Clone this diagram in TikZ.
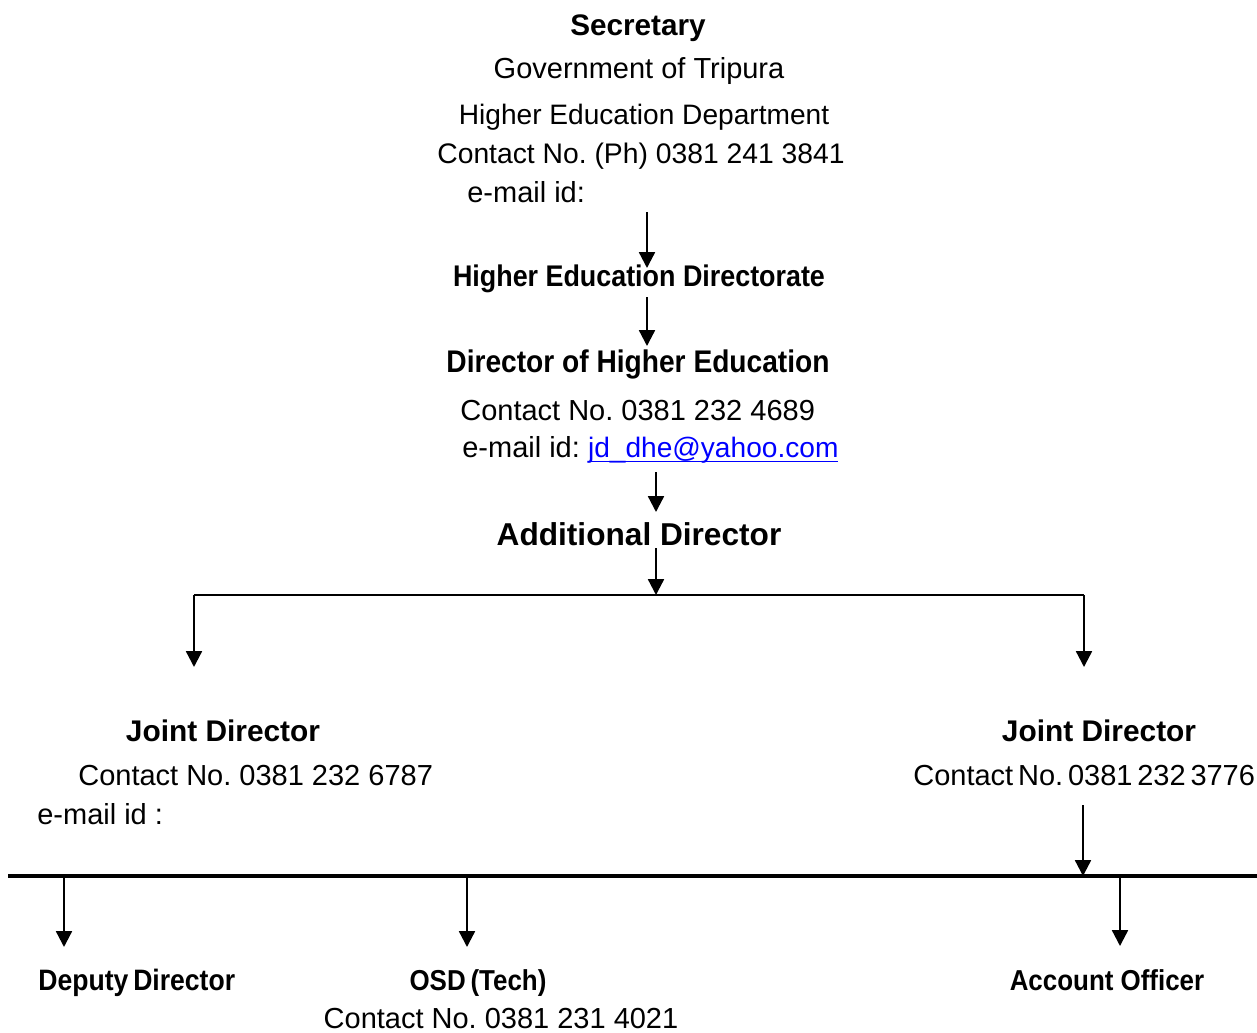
\documentclass[tikz,border=0pt]{standalone}
\usepackage{fontspec}
\setmainfont{Liberation Sans}
\newfontfamily\narrowsf[FakeStretch=0.9]{Liberation Sans}
\usetikzlibrary{arrows.meta,positioning}

\definecolor{linkblue}{RGB}{0,0,255}
\newcommand\fsz[1]{\fontsize{#1}{#1}\selectfont}
\newcommand\linkul[1]{\setbox0\hbox{#1}\rlap{\rule[-2.6pt]{\wd0}{0.6pt}}\box0}
\frenchspacing

\tikzset{
  lbl/.style={anchor=base,inner sep=0pt},
  arr/.style={-{Triangle[width=9pt,length=9pt]},line width=1.3pt},
  bus/.style={line width=1.2pt},
  mainbus/.style={line width=2pt}
}

\begin{document}
\begin{tikzpicture}[x=0.02cm,y=-0.02cm,font=\fsz{16.5}]
  \useasboundingbox (0,0) rectangle (1257,1032);

  % Secretary
  \node[lbl] (sec) at (638,35) {\fsz{16.9}\bfseries Secretary};
  \node[lbl] (gov) at (639,78) {Government of Tripura};
  \node[lbl] (hedept) at (644,124) {\fsz{16}Higher Education Department};
  \node[lbl] (secph) at (641,163) {\fsz{16.1}Contact No. (Ph) 0381 241 3841};
  \node[lbl,anchor=base west] (secmail) at (467,202) {e-mail id:};

  % Directorate and Director
  \node[lbl] (hedir) at (639,286) {\narrowsf\bfseries\fsz{17}Higher Education Directorate};
  \node[lbl] (dhe) at (638,372) {\narrowsf\bfseries\fsz{17.8}Director of Higher Education};
  \node[lbl,anchor=base west] (dheph) at (460,420) {Contact No. 0381 232 4689};
  \node[lbl,anchor=base west] (dhemail) at (462,457) {e-mail id: \textcolor{linkblue}{\fsz{16}\linkul{jd\_dhe@yahoo.com}}};

  % Additional Director
  \node[lbl] (addl) at (639,545) {\fsz{18}\bfseries Additional Director};

  % Joint Directors
  \node[lbl] (jdl) at (223,741) {\fsz{17}\bfseries Joint Director};
  \node[lbl,anchor=base west] (jdlph) at (78,785) {Contact No. 0381 232 6787};
  \node[lbl,anchor=base west] (jdlmail) at (37,824) {e-mail id :};
  \node[lbl] (jdr) at (1099,741) {\fsz{17}\bfseries Joint Director};
  \node[lbl,anchor=base west] (jdrph) at (913,785) {Contact\,No.\,0381\,232\,3776};

  % Officers
  \node[lbl,anchor=base west] (dd) at (38,990) {\narrowsf\bfseries\fsz{16.8}Deputy\,Director};
  \node[lbl] (osd) at (478,990) {\narrowsf\bfseries\fsz{16.4}OSD\,(Tech)};
  \node[lbl] (ao) at (1107,990) {\narrowsf\bfseries\fsz{16.4}Account Officer};
  \node[lbl] (osdph) at (501,1028) {Contact No. 0381 231 4021};

  % Arrow ends
  \coordinate (a1) at (647,212);  \coordinate (a1e) at (647,268);
  \coordinate (a2) at (647,297);  \coordinate (a2e) at (647,346);
  \coordinate (a3) at (656,472);  \coordinate (a3e) at (656,512);
  \coordinate (a4) at (656,548);
  \coordinate (busL) at (194,595); \coordinate (busR) at (1084,595);
  \coordinate (jdlin) at (194,667); \coordinate (jdrin) at (1084,667);
  \coordinate (a5) at (1083,805);
  \coordinate (mainL) at (8,876); \coordinate (mainR) at (1257,876);
  \coordinate (ddin) at (64,947); \coordinate (osdin) at (467,947); \coordinate (aoin) at (1120,946);

  % Connectors
  \draw[arr] (a1) -- (a1e);
  \draw[arr] (a2) -- (a2e);
  \draw[arr] (a3) -- (a3e);
  \draw[bus] (busL) -- (busR);
  \draw[arr] (a4) -- (a4 |- busL);
  \draw[arr] (busL) -- (jdlin);
  \draw[arr] (busR) -- (jdrin);
  \draw[mainbus] (mainL) -- (mainR);
  \draw[arr] (a5) -- (a5 |- mainL);
  \draw[arr] (ddin |- mainL) -- (ddin);
  \draw[arr] (osdin |- mainL) -- (osdin);
  \draw[arr] (aoin |- mainL) -- (aoin);
\end{tikzpicture}
\end{document}
